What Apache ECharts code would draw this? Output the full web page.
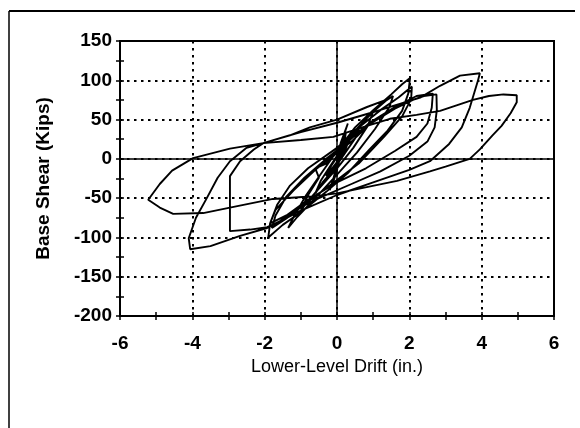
<!DOCTYPE html>
<html>
<head>
<meta charset="utf-8">
<script src="https://cdn.jsdelivr.net/npm/echarts@6/dist/echarts.min.js"></script>
<style>
  html, body { margin: 0; padding: 0; background: #fff; }
  #chart { width: 580px; height: 428px; }
</style>
</head>
<body>
<div id="chart"></div>
<script>
// hysteresis loops: [drift (in.), base shear (kips)]
const cycle1 = [[0, 0], [0.15, 10], [0.3, 20], [0.2, 8], [0, -4], [-0.2, -16], [-0.3, -22], [-0.15, -8], [0, 2]]
const cycle2 = [[0.25, 18], [0.5, 32], [0.65, 42], [0.5, 26], [0.2, 6], [-0.1, -14], [-0.4, -30], [-0.6, -44], [-0.45, -28], [-0.2, -10], [0, 4]]
const cycle2b = [[0.1, 15], [0.25, 35], [0.2, 20], [0.05, -5], [-0.1, -25], [-0.2, -40], [-0.1, -25], [0.05, 0], [0.1, 20], [0.3, 45], [0.15, 25], [0, -10], [-0.15, -35], [0, -15], [0.05, 0]]
const cycle3 = [[0.35, 25], [0.7, 46], [1.0, 60], [0.85, 42], [0.45, 14], [0, -12], [-0.5, -38], [-0.85, -56], [-1.0, -66], [-0.8, -46], [-0.5, -24], [-0.6, -12], [-0.3, -6], [0, 8]]
const cycle4 = [[0.5, 36], [1.0, 60], [1.35, 74], [1.55, 80], [1.45, 66], [1.05, 38], [0.55, 8], [0, -20], [-0.6, -50], [-1.1, -74], [-1.35, -88], [-1.2, -74], [-0.85, -46], [-0.4, -16], [0, 10]]
const cycle5 = [[0.5, 40], [1.0, 62], [1.5, 82], [1.8, 95], [2.02, 103], [1.97, 83], [1.8, 61], [1.4, 36], [0.9, 12], [0.3, -18], [-0.3, -42], [-1.0, -68], [-1.5, -84], [-1.9, -100], [-1.85, -82], [-1.65, -58], [-1.3, -34], [-0.8, -12], [0, 14]]
const cycle6 = [[0.6, 40], [1.2, 62], [1.7, 78], [2.07, 92], [2.05, 76], [1.8, 54], [1.3, 28], [0.6, -6], [-0.2, -34], [-0.9, -58], [-1.4, -76], [-1.8, -88], [-1.7, -72], [-1.4, -48], [-0.9, -24], [-0.3, 0], [0.2, 18]]
const cycle7 = [[0.9, 46], [1.6, 66], [2.2, 80], [2.65, 83], [2.62, 65], [2.5, 45], [2.2, 28], [1.6, 10], [0.8, -12], [0, -30], [-0.8, -52], [-1.4, -72], [-1.85, -82], [-1.7, -65], [-1.2, -40], [-0.6, -14], [0, 8], [0.4, 22]]
const cycle8 = [[0.9, 44], [1.6, 64], [2.1, 75], [2.4, 80], [2.75, 82], [2.76, 62], [2.7, 40], [2.5, 22], [2.0, 4], [1.2, -16], [0.4, -32], [-0.5, -50], [-1.2, -66], [-1.6, -80], [-1.93, -87], [-2.4, -90], [-2.96, -92], [-2.96, -58], [-2.96, -22], [-2.68, -3], [-2.3, 12], [-2.04, 20], [-1.0, 34], [0, 46], [0.9, 58]]
const cycle9 = [[1.6, 68], [2.3, 78], [2.85, 93], [3.4, 106], [3.95, 109], [3.9, 100], [3.67, 65], [3.45, 40], [3.1, 19], [2.57, -3], [2.0, -14], [1.0, -30], [0, -46], [-1.0, -66], [-1.93, -88], [-2.68, -98], [-3.5, -111], [-4.06, -115], [-4.1, -101], [-3.9, -75], [-3.6, -50], [-3.3, -24], [-2.96, -3], [-2.5, 14], [-2.04, 20], [-1.0, 24], [-0.1, 28]]
const cycle10 = [[0.7, 40], [1.46, 51], [2.2, 56], [2.85, 61], [3.76, 75], [4.2, 80], [4.6, 82], [4.97, 81], [4.97, 72], [4.8, 58], [4.55, 42], [4.3, 30], [3.95, 12], [3.67, 0], [3.0, -10], [2.57, -16], [1.66, -28], [0.72, -37], [0, -44], [-0.75, -48], [-1.77, -51], [-2.96, -62], [-3.7, -69], [-4.53, -70], [-4.9, -62], [-5.22, -52], [-4.9, -32], [-4.56, -15], [-3.98, 1], [-2.96, 13], [-2.04, 20], [-1.3, 30], [-0.75, 40], [0, 50], [0.83, 66], [1.3, 74]]

const xTicks = [-6, -4, -2, 0, 2, 4, 6]
const yTicks = [-200, -150, -100, -50, 0, 50, 100, 150]

const loops = [].concat(cycle1, cycle2, cycle2b, cycle3, cycle4, cycle5, cycle6, cycle7, cycle8, cycle9, cycle10)

const chart = echarts.init(document.getElementById('chart'))

const labelFont = {
  color: '#000',
  fontFamily: 'Liberation Sans, Arial, sans-serif',
  fontWeight: 'bold',
  fontSize: 19
}
const dotted = {
  show: true,
  lineStyle: { color: '#000', width: 2, type: [2.5, 4.5] }
}
const crossTick = { show: true, inside: true, length: 4, lineStyle: { color: '#000', width: 1.5 } }

const option = {
  animation: false,
  backgroundColor: '#fff',
  grid: {
    left: 120,
    right: 26,
    top: 41,
    bottom: 112,
    show: true,
    borderColor: '#000',
    borderWidth: 2,
    backgroundColor: 'transparent'
  },
  graphic: [
    // scanned frame round the figure
    { type: 'line', shape: { x1: 9, y1: 11, x2: 575, y2: 11 }, style: { stroke: '#000', lineWidth: 2 } },
    { type: 'line', shape: { x1: 9, y1: 11, x2: 9, y2: 428 }, style: { stroke: '#000', lineWidth: 1.5 } }
  ],
  xAxis: [
    {
      type: 'value',
      min: xTicks[0],
      max: xTicks[xTicks.length - 1],
      interval: 2,
      name: 'Lower-Level Drift (in.)',
      nameLocation: 'middle',
      nameGap: 40,
      nameTextStyle: {
        color: '#000',
        fontFamily: 'Liberation Sans, Arial, sans-serif',
        fontSize: 18
      },
      axisLine: { show: true, onZero: false, lineStyle: { color: '#000', width: 2 } },
      axisTick: { show: true, length: 4, lineStyle: { color: '#000', width: 1.5 } },
      minorTick: { show: true, splitNumber: 2, length: 4, lineStyle: { color: '#000', width: 1.5 } },
      axisLabel: Object.assign({ margin: 18 }, labelFont),
      splitLine: dotted
    },
    {
      type: 'value',
      min: xTicks[0],
      max: xTicks[xTicks.length - 1],
      interval: 2,
      position: 'bottom',
      axisLine: { show: false, onZero: false },
      axisTick: crossTick,
      minorTick: { show: true, splitNumber: 2, length: 4, lineStyle: { color: '#000', width: 1.5 } },
      axisLabel: { show: false },
      splitLine: { show: false }
    }
  ],
  yAxis: [
    {
      type: 'value',
      min: yTicks[0],
      max: yTicks[yTicks.length - 1],
      interval: 50,
      name: 'Base Shear (Kips)',
      nameLocation: 'middle',
      nameGap: 67,
      nameTextStyle: {
        color: '#000',
        fontFamily: 'Liberation Sans, Arial, sans-serif',
        fontWeight: 'bold',
        fontSize: 19
      },
      axisLine: { show: true, onZero: false, lineStyle: { color: '#000', width: 2 } },
      axisTick: { show: true, length: 4, lineStyle: { color: '#000', width: 1.5 } },
      minorTick: { show: true, splitNumber: 2, length: 4, lineStyle: { color: '#000', width: 1.5 } },
      axisLabel: Object.assign({ margin: 8 }, labelFont),
      splitLine: dotted
    },
    {
      type: 'value',
      min: yTicks[0],
      max: yTicks[yTicks.length - 1],
      interval: 50,
      position: 'left',
      axisLine: { show: false, onZero: false },
      axisTick: crossTick,
      minorTick: { show: true, splitNumber: 2, length: 4, lineStyle: { color: '#000', width: 1.5 } },
      axisLabel: { show: false },
      splitLine: { show: false }
    }
  ],
  series: [
    {
      name: 'hysteresis',
      type: 'line',
      data: loops,
      showSymbol: false,
      symbol: 'none',
      smooth: false,
      lineStyle: { color: '#000', width: 1.9 },
      markLine: {
        silent: true,
        symbol: ['none', 'none'],
        label: { show: false },
        lineStyle: { color: '#000', width: 1.5, type: 'solid' },
        data: [{ xAxis: 0 }, { yAxis: 0 }]
      },
      z: 3
    }
  ]
}

chart.setOption(option)
</script>
</body>
</html>
